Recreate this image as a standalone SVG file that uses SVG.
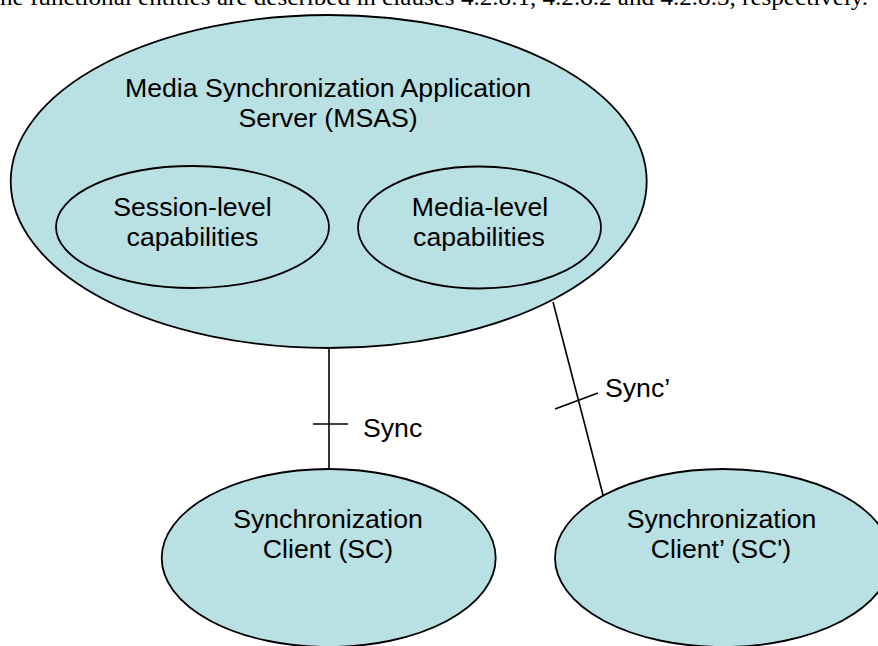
<svg xmlns="http://www.w3.org/2000/svg" width="878" height="646" viewBox="0 0 878 646">
<style>
.node{fill:#B9E0E3;stroke:#000;stroke-width:1.8}
.inner{fill:none;stroke:#000;stroke-width:1.8}
.lbl{font-family:"Liberation Sans",Arial,sans-serif;font-size:26.67px;fill:#000;text-anchor:middle}
.conn{stroke:#000;stroke-width:1.6;fill:none}
.cap{font-family:"Liberation Serif","Times New Roman",serif;font-size:24px;fill:#000}
</style>
<rect width="878" height="646" fill="#fff"/>
<text class="cap" x="0" y="5" textLength="868" lengthAdjust="spacingAndGlyphs">he functional entities are described in clauses 4.2.8.1, 4.2.8.2 and 4.2.8.3, respectively.</text>
<g id="connectors">
<line class="conn" x1="329" y1="348" x2="329" y2="469"/>
<line class="conn" x1="313" y1="424" x2="348" y2="424"/>
<line class="conn" x1="553" y1="302" x2="603" y2="495"/>
<line class="conn" x1="555" y1="409" x2="598" y2="393"/>
<text class="lbl" style="text-anchor:start" x="363" y="437">Sync</text>
<text class="lbl" style="text-anchor:start" x="605" y="397">Sync’</text>
</g>
<g id="msas">
<ellipse class="node" cx="328.7" cy="181.5" rx="318" ry="166.5"/>
<text class="lbl" x="328" y="97">Media Synchronization Application</text>
<text class="lbl" x="328" y="127">Server (MSAS)</text>
</g>
<g id="session-level">
<ellipse class="inner" cx="192.5" cy="227" rx="136.5" ry="61"/>
<text class="lbl" x="192.5" y="216">Session-level</text>
<text class="lbl" x="192.5" y="246">capabilities</text>
</g>
<g id="media-level">
<ellipse class="inner" cx="479.5" cy="227.5" rx="121.5" ry="61"/>
<text class="lbl" x="480" y="216">Media-level</text>
<text class="lbl" x="479" y="246">capabilities</text>
</g>
<g id="sc">
<ellipse class="node" cx="328.7" cy="558" rx="167" ry="89"/>
<text class="lbl" x="328" y="528">Synchronization</text>
<text class="lbl" x="328" y="558">Client (SC)</text>
</g>
<g id="sc-prime">
<ellipse class="node" cx="723" cy="558" rx="168" ry="89"/>
<text class="lbl" x="721.5" y="528">Synchronization</text>
<text class="lbl" x="721" y="558">Client’ (SC')</text>
</g>
</svg>
